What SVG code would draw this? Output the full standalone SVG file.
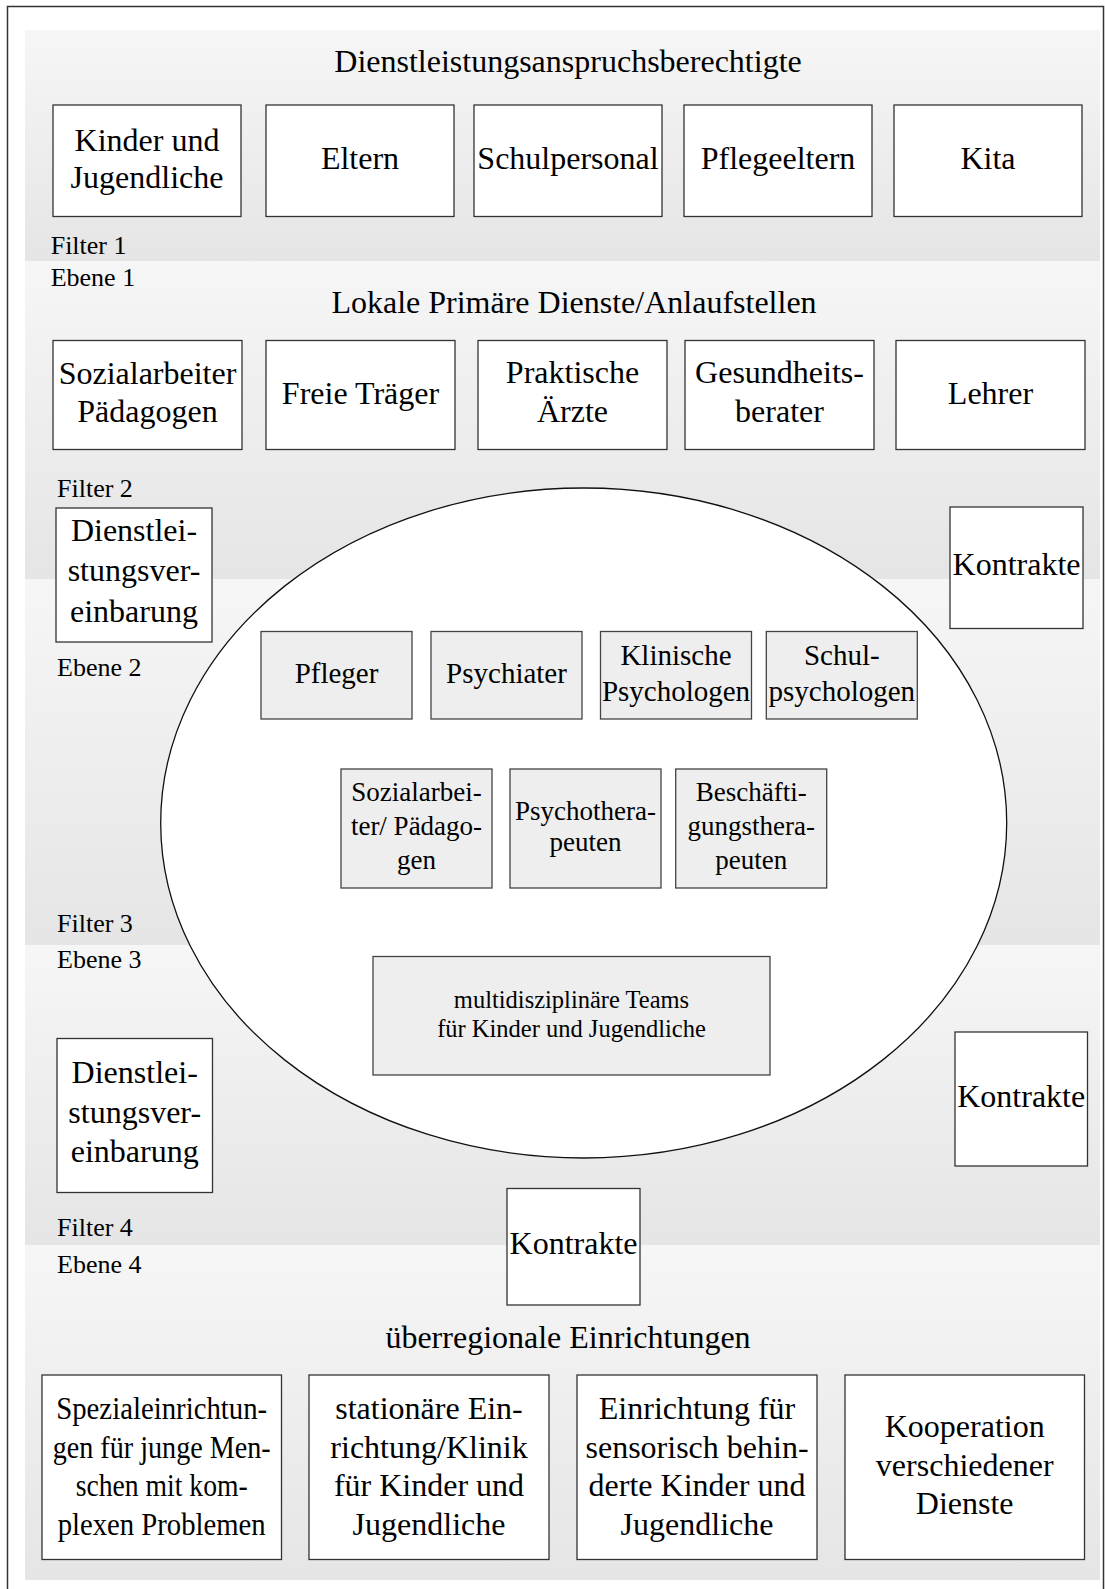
<svg xmlns="http://www.w3.org/2000/svg" width="1105" height="1589" viewBox="0 0 1105 1589">
<defs>
<linearGradient id="band" x1="0" y1="0" x2="0" y2="1">
<stop offset="0" stop-color="#f6f6f6"/>
<stop offset="1" stop-color="#e5e5e5"/>
</linearGradient>
<style>
text{font-family:"Liberation Serif","Times New Roman",serif;fill:#000}
.t32{font-size:32px;text-anchor:middle}
.t29{font-size:29px;text-anchor:middle}
.t27{font-size:27px;text-anchor:middle}
.t24{font-size:24.5px;text-anchor:middle}
.lbl{font-size:26px}
.box{fill:#fff;stroke:#333;stroke-width:1.3}
.ibox{fill:#eeeeee;stroke:#444;stroke-width:1.3}
.band{fill:url(#band)}
</style>
</defs>
<rect x="0" y="0" width="1105" height="1589" fill="#fff"/>
<rect x="7.5" y="6.5" width="1096" height="1620" fill="none" stroke="#333" stroke-width="1.5"/>
<g id="bands">
<rect class="band" x="25" y="30" width="1075" height="231"/>
<rect class="band" x="25" y="261" width="1075" height="318"/>
<rect class="band" x="25" y="579" width="1075" height="366"/>
<rect class="band" x="25" y="945" width="1075" height="300"/>
<rect class="band" x="25" y="1245" width="1075" height="335"/>
</g>
<g id="labels">
<text class="lbl" x="50.7" y="254">Filter 1</text>
<text class="lbl" x="50.7" y="285.7">Ebene 1</text>
<text class="lbl" x="57" y="496.7">Filter 2</text>
<text class="lbl" x="57" y="676">Ebene 2</text>
<text class="lbl" x="57" y="931.7">Filter 3</text>
<text class="lbl" x="57" y="968.3">Ebene 3</text>
<text class="lbl" x="57" y="1235.7">Filter 4</text>
<text class="lbl" x="57" y="1273.3">Ebene 4</text>
</g>
<g id="titles">
<text class="t32" x="568" y="71.7">Dienstleistungsanspruchsberechtigte</text>
<text class="t32" x="574" y="313.3">Lokale Primäre Dienste/Anlaufstellen</text>
<text class="t32" x="568" y="1348">überregionale Einrichtungen</text>
</g>
<g id="connectors"/>
<g id="ellipse">
<ellipse cx="583.7" cy="823" rx="423" ry="335" fill="#fff" stroke="#111" stroke-width="1.3"/>
</g>
<g id="n_kinder"><rect class="box" x="53" y="105" width="188" height="111.5"/><text class="t32" x="147" y="150.5">Kinder und</text><text class="t32" x="147" y="187.5">Jugendliche</text></g>
<g id="n_eltern"><rect class="box" x="266" y="105" width="188" height="111.5"/><text class="t32" x="360" y="168.7">Eltern</text></g>
<g id="n_schulpersonal"><rect class="box" x="474" y="105" width="188" height="111.5"/><text class="t32" x="568" y="168.7">Schulpersonal</text></g>
<g id="n_pflegeeltern"><rect class="box" x="684" y="105" width="188" height="111.5"/><text class="t32" x="778" y="168.7">Pflegeeltern</text></g>
<g id="n_kita"><rect class="box" x="894" y="105" width="188" height="111.5"/><text class="t32" x="988" y="168.7">Kita</text></g>
<g id="n_sozialarbeiter"><rect class="box" x="53" y="340.5" width="189" height="109"/><text class="t32" x="147.5" y="383.7">Sozialarbeiter</text><text class="t32" x="147.5" y="422">Pädagogen</text></g>
<g id="n_freie"><rect class="box" x="266" y="340.5" width="189" height="109"/><text class="t32" x="360.5" y="403.7">Freie Träger</text></g>
<g id="n_aerzte"><rect class="box" x="478" y="340.5" width="189" height="109"/><text class="t32" x="572.5" y="382.7">Praktische</text><text class="t32" x="572.5" y="422">Ärzte</text></g>
<g id="n_gesundheit"><rect class="box" x="685" y="340.5" width="189" height="109"/><text class="t32" x="779.5" y="382.7">Gesundheits-</text><text class="t32" x="779.5" y="422">berater</text></g>
<g id="n_lehrer"><rect class="box" x="896" y="340.5" width="189" height="109"/><text class="t32" x="990.5" y="403.7">Lehrer</text></g>
<g id="n_dienst1"><rect class="box" x="56" y="508" width="156" height="134"/><text class="t32" x="134" y="540.5">Dienstlei-</text><text class="t32" x="134" y="581">stungsver-</text><text class="t32" x="134" y="621.5">einbarung</text></g>
<g id="n_kontrakte1"><rect class="box" x="950" y="507" width="133" height="121.5"/><text class="t32" x="1016.5" y="575.3">Kontrakte</text></g>
<g id="n_pfleger"><rect class="ibox" x="261" y="631.5" width="151" height="87.5"/><text class="t29" x="336.5" y="682.5">Pfleger</text></g>
<g id="n_psychiater"><rect class="ibox" x="431" y="631.5" width="151" height="87.5"/><text class="t29" x="506.5" y="682.5">Psychiater</text></g>
<g id="n_klinische"><rect class="ibox" x="600.5" y="631.5" width="151" height="87.5"/><text class="t29" x="676" y="665">Klinische</text><text class="t29" x="676" y="700.5">Psychologen</text></g>
<g id="n_schulpsych"><rect class="ibox" x="766.3" y="631.5" width="151" height="87.5"/><text class="t29" x="841.8" y="665">Schul-</text><text class="t29" x="841.8" y="700.5">psychologen</text></g>
<g id="n_sozialpaed"><rect class="ibox" x="341" y="769" width="151" height="119"/><text class="t27" x="416.5" y="800.7">Sozialarbei-</text><text class="t27" x="416.5" y="834.7">ter/ Pädago-</text><text class="t27" x="416.5" y="868.7">gen</text></g>
<g id="n_psychotherapeuten"><rect class="ibox" x="510" y="769" width="151" height="119"/><text class="t27" x="585.5" y="820">Psychothera-</text><text class="t27" x="585.5" y="851">peuten</text></g>
<g id="n_beschaeftigung"><rect class="ibox" x="675.7" y="769" width="151" height="119"/><text class="t27" x="751.2" y="800.7">Beschäfti-</text><text class="t27" x="751.2" y="834.7">gungsthera-</text><text class="t27" x="751.2" y="868.7">peuten</text></g>
<g id="n_teams"><rect class="ibox" x="373" y="956.5" width="397" height="118.5"/><text class="t24" x="571.5" y="1007.5">multidisziplinäre Teams</text><text class="t24" x="571.5" y="1036.7">für Kinder und Jugendliche</text></g>
<g id="n_dienst2"><rect class="box" x="57" y="1038.5" width="155.5" height="154"/><text class="t32" x="134.7" y="1083.3">Dienstlei-</text><text class="t32" x="134.7" y="1122.5">stungsver-</text><text class="t32" x="134.7" y="1161.7">einbarung</text></g>
<g id="n_kontrakte2"><rect class="box" x="955" y="1032" width="132.5" height="134"/><text class="t32" x="1021.2" y="1107">Kontrakte</text></g>
<g id="n_kontrakte3"><rect class="box" x="507" y="1188.5" width="133" height="116.5"/><text class="t32" x="573.5" y="1254.3">Kontrakte</text></g>
<g id="n_spezial"><rect class="box" x="42" y="1375" width="239.5" height="184.5"/>
<text class="t32" x="161.7" y="1419" textLength="211" lengthAdjust="spacingAndGlyphs">Spezialeinrichtun-</text>
<text class="t32" x="161.7" y="1457.5" textLength="218" lengthAdjust="spacingAndGlyphs">gen für junge Men-</text>
<text class="t32" x="161.7" y="1496" textLength="172" lengthAdjust="spacingAndGlyphs">schen mit kom-</text>
<text class="t32" x="161.7" y="1534.5" textLength="208" lengthAdjust="spacingAndGlyphs">plexen Problemen</text></g>
<g id="n_stationaer"><rect class="box" x="309" y="1375" width="240" height="184.5"/><text class="t32" x="429" y="1419">stationäre Ein-</text><text class="t32" x="429" y="1457.5">richtung/Klinik</text><text class="t32" x="429" y="1496">für Kinder und</text><text class="t32" x="429" y="1534.5">Jugendliche</text></g>
<g id="n_sensorisch"><rect class="box" x="577" y="1375" width="240" height="184.5"/><text class="t32" x="697" y="1419">Einrichtung für</text><text class="t32" x="697" y="1457.5">sensorisch behin-</text><text class="t32" x="697" y="1496">derte Kinder und</text><text class="t32" x="697" y="1534.5">Jugendliche</text></g>
<g id="n_kooperation"><rect class="box" x="845" y="1375" width="239.5" height="184.5"/><text class="t32" x="964.7" y="1437">Kooperation</text><text class="t32" x="964.7" y="1475.5">verschiedener</text><text class="t32" x="964.7" y="1514">Dienste</text></g>
</svg>
